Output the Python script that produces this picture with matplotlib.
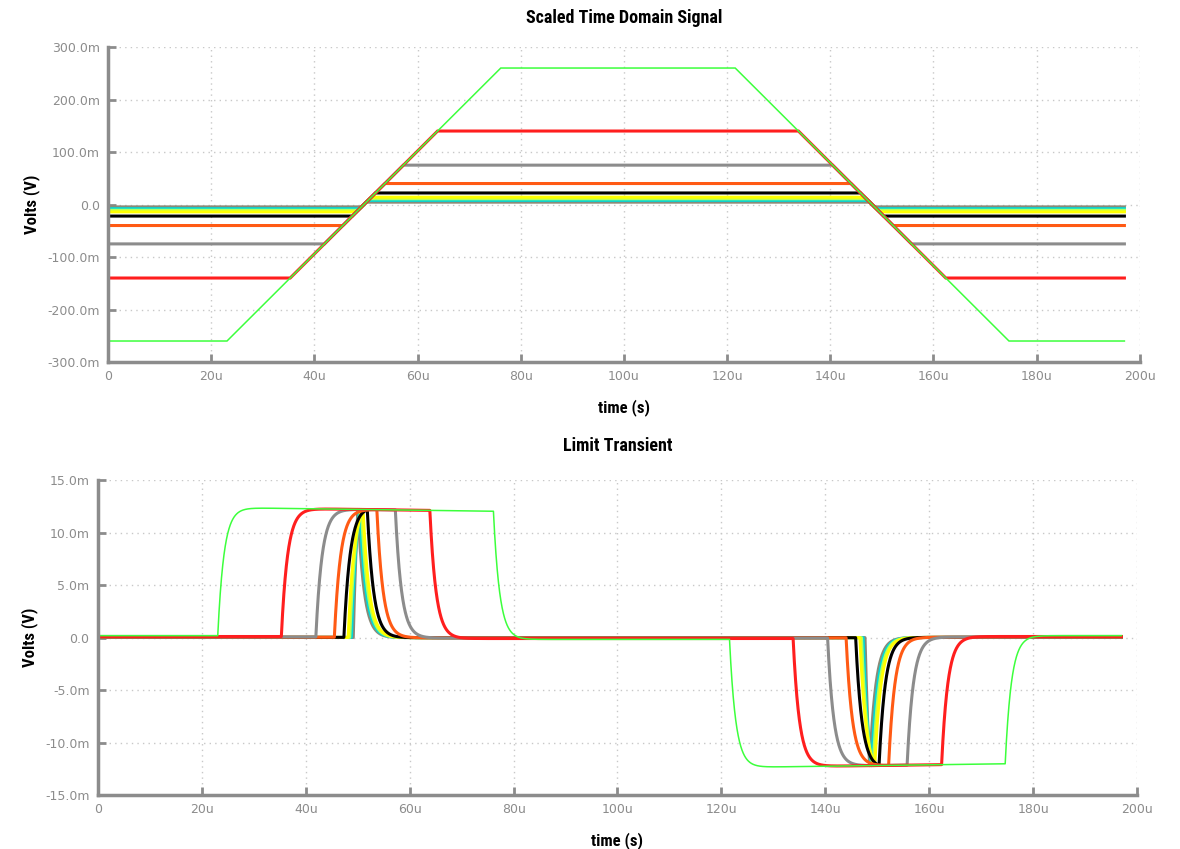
import numpy as np
import matplotlib
matplotlib.use("Agg")
import matplotlib.pyplot as plt
from matplotlib.ticker import FuncFormatter, MultipleLocator
from matplotlib import font_manager

# clip levels of the scaled signal (mV) and trace colours
levels_mV = [4.5, 8, 11, 14, 22, 40, 75, 140, 260]
colors = ['#8a8a78', '#00dada', '#b4ff5a', '#ffff00', '#000000',
          '#ff5a14', '#8c8c8c', '#ff1e1e', '#3cff3c']
widths = [2.2, 2.2, 2.2, 2.2, 2.2, 2.2, 2.2, 2.2, 1.1]

# ramp of the source signal
slope_mV_per_us = 9.8     # ramp slope
t_up_zero_us = 49.6       # rising ramp crosses 0
t_dn_zero_us = 148.1      # falling ramp crosses 0
t_end_us = 197.0          # last sample

# transient response
peak_mV = 12.2
tau_us = 1.2              # settling of each edge
droop_tau_us = 1800.0     # slow sag on the plateaus

names = [f"limit {l}m" for l in levels_mV]

title_font = 'DejaVu Sans'
for fam in ['Liberation Sans Narrow', 'Roboto Condensed', 'DejaVu Sans']:
    try:
        font_manager.findfont(fam, fallback_to_default=False)
        title_font = fam
        break
    except Exception:
        pass


def v_fmt(v, pos):
    if abs(v) < 1e-12:
        return '0.0'
    return '%.1fm' % (v * 1e3)


def t_fmt(v, pos):
    if abs(v) < 1e-15:
        return '0'
    return '%du' % round(v * 1e6)


def style(ax, ytick, ymax):
    ax.set_xlim(0, 200e-6)
    ax.set_ylim(-ymax, ymax)
    ax.xaxis.set_major_locator(MultipleLocator(20e-6))
    ax.yaxis.set_major_locator(MultipleLocator(ytick))
    ax.xaxis.set_major_formatter(FuncFormatter(t_fmt))
    ax.yaxis.set_major_formatter(FuncFormatter(v_fmt))
    for s in ['top', 'right']:
        ax.spines[s].set_visible(False)
    for s in ['left', 'bottom']:
        ax.spines[s].set_color('#8c8c8c')
        ax.spines[s].set_linewidth(2.5)
    ax.tick_params(direction='in', length=6, width=2, color='#8c8c8c',
                   labelcolor='#8c8c8c', labelsize=9, pad=6)
    for lab in ax.get_xticklabels() + ax.get_yticklabels():
        lab.set_family('DejaVu Sans')
    ax.grid(True, linestyle=(0, (1, 3)), color='#c8c8c8', linewidth=1)
    ax.set_axisbelow(True)
    ax.set_xlabel('time (s)', fontsize=12, fontweight='bold', family=title_font, labelpad=11)
    ax.set_ylabel('Volts (V)', fontsize=12, fontweight='bold', family=title_font, labelpad=5)


fig = plt.figure(figsize=(11.8, 8.49), dpi=100)
ax1 = fig.add_axes([0.0915, 0.5736, 0.8745, 0.371])
ax2 = fig.add_axes([0.083, 0.0636, 0.8806, 0.371])

t_us = np.arange(0, t_end_us + 0.01, 0.02)
t = t_us * 1e-6
dt = 0.02

# top: clipped trapezoids, drawn from their corner points
for lvl, c, w in zip(levels_mV, colors, widths):
    half = lvl / slope_mV_per_us
    tx = [0, t_up_zero_us - half, t_up_zero_us + half,
          t_dn_zero_us - half, t_dn_zero_us + half, t_end_us]
    vy = [-lvl, -lvl, lvl, lvl, -lvl, -lvl]
    ax1.plot(np.array(tx) * 1e-6, np.array(vy) * 1e-3, color=c, lw=w,
             solid_joinstyle='miter')
style(ax1, 0.1, 0.3)
ax1.set_title('Scaled Time Domain Signal', fontsize=13, fontweight='bold',
              family=title_font, pad=17)

# bottom: response to the ramp edges
a = 1 - np.exp(-dt / tau_us)
b = 1 - np.exp(-dt / droop_tau_us)
for i in range(len(levels_mV)):
    lvl = levels_mV[i]
    half = lvl / slope_mV_per_us
    u = np.zeros_like(t_us)
    u[(t_us >= t_up_zero_us - half) & (t_us < t_up_zero_us + half)] = 1.0
    u[(t_us >= t_dn_zero_us - half) & (t_us < t_dn_zero_us + half)] = -1.0
    y = np.zeros_like(u)
    for n in range(1, len(u)):
        y[n] = y[n - 1] + (u[n] - y[n - 1]) * a
    y = y / np.abs(y).max() * peak_mV
    z = np.zeros_like(y)
    z[0] = -peak_mV * (2 * half) / droop_tau_us / 2
    for n in range(1, len(y)):
        z[n] = z[n - 1] + (y[n] - z[n - 1]) * b
    ax2.plot(t, (y - z) * 1e-3, color=colors[i], lw=widths[i], label=names[i])
style(ax2, 0.005, 0.015)
ax2.set_title('Limit Transient', fontsize=13, fontweight='bold',
              family=title_font, pad=21)

fig.savefig('out.png', dpi=100)
